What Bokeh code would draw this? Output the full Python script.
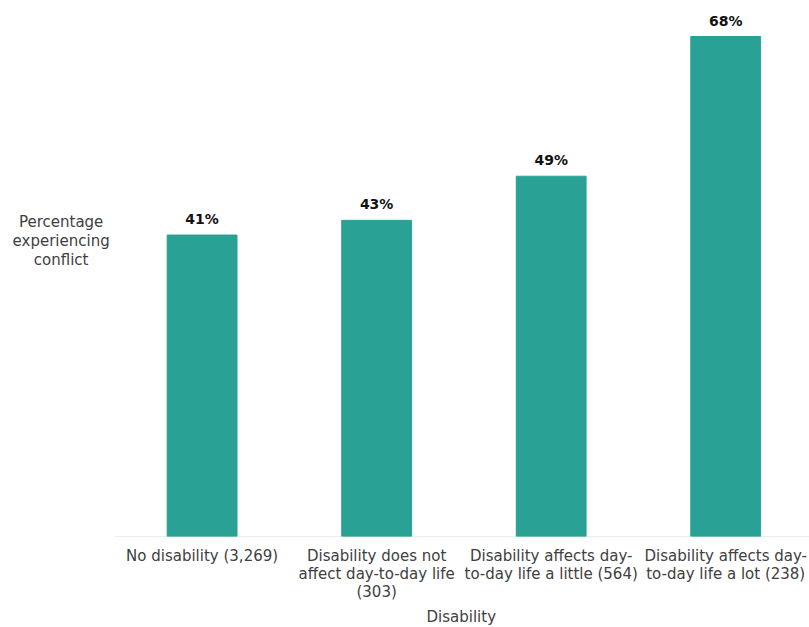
from bokeh.plotting import figure
from bokeh.models import Range1d, FixedTicker, ColumnDataSource, Title
from bokeh.core.properties import value
from bokeh.embed import file_html
from bokeh.resources import INLINE

categories = [
    "No disability (3,269)",
    "Disability does not\naffect day-to-day life\n(303)",
    "Disability affects day-\nto-day life a little (564)",
    "Disability affects day-\nto-day life a lot (238)",
]
values = [41, 43, 49, 68]
value_labels = ["41%", "43%", "49%", "68%"]
y_title = "Percentage\nexperiencing\nconflict"
x_title = "Disability"

FONT = "DejaVu Sans"
BAR = "#29A195"
TXT = "#404040"

positions = [i + 0.5 for i in range(len(categories))]
src = ColumnDataSource(dict(x=positions, top=values, lab=value_labels))

X_LEFT = -0.655   # room on the left of the category area for the y title
X_END = 3.98
p = figure(width=809, height=627, output_backend="svg", toolbar_location=None,
           x_range=Range1d(X_LEFT, X_END), y_range=Range1d(0, 72.9))
p.min_border_left = 0
p.min_border_right = 0
p.min_border_top = 0
p.min_border_bottom = 60
p.outline_line_color = None
p.xgrid.visible = False
p.ygrid.visible = False
p.yaxis.visible = False
p.background_fill_color = "white"
p.border_fill_color = "white"

# baseline (category axis line) only under the category area
p.segment(x0=[0], y0=[0], x1=[X_END], y1=[0], line_color="#d9d9d9", line_width=1)

p.vbar(x="x", top="top", width=0.4, bottom=0, source=src, fill_color=BAR, line_color=BAR)
p.text(x="x", y="top", text="lab", source=src, text_align="center", text_baseline="bottom",
       y_offset=-8, text_font=value(FONT), text_font_style="bold", text_font_size="14px",
       text_color="#111111")

# y title, horizontal and centred, left of the bars
p.text(x=[X_LEFT / 2 + 0.02], y=[40.2], text=[y_title], text_align="center", text_baseline="middle",
       text_font=value(FONT), text_font_size="15px", text_color=TXT, text_line_height=1.05)

ax = p.xaxis[0]
ax.ticker = FixedTicker(ticks=positions)
ax.major_label_overrides = {pos: c for pos, c in zip(positions, categories)}
ax.major_tick_line_color = None
ax.major_tick_out = 0
ax.major_tick_in = 0
ax.minor_tick_line_color = None
ax.minor_tick_out = 0
ax.axis_line_color = None
ax.major_label_text_font = FONT
ax.major_label_text_font_size = "15px"
ax.major_label_text_line_height = 1.0
ax.major_label_text_color = TXT
ax.major_label_standoff = 10

# x title centred under the category area (not the full frame)
t = Title(text=x_title, align="left", offset=426, text_font=FONT,
          text_font_size="15px", text_font_style="normal", text_color=TXT, standoff=4)
p.add_layout(t, "below")

open("out.html", "w").write(file_html(p, INLINE))
